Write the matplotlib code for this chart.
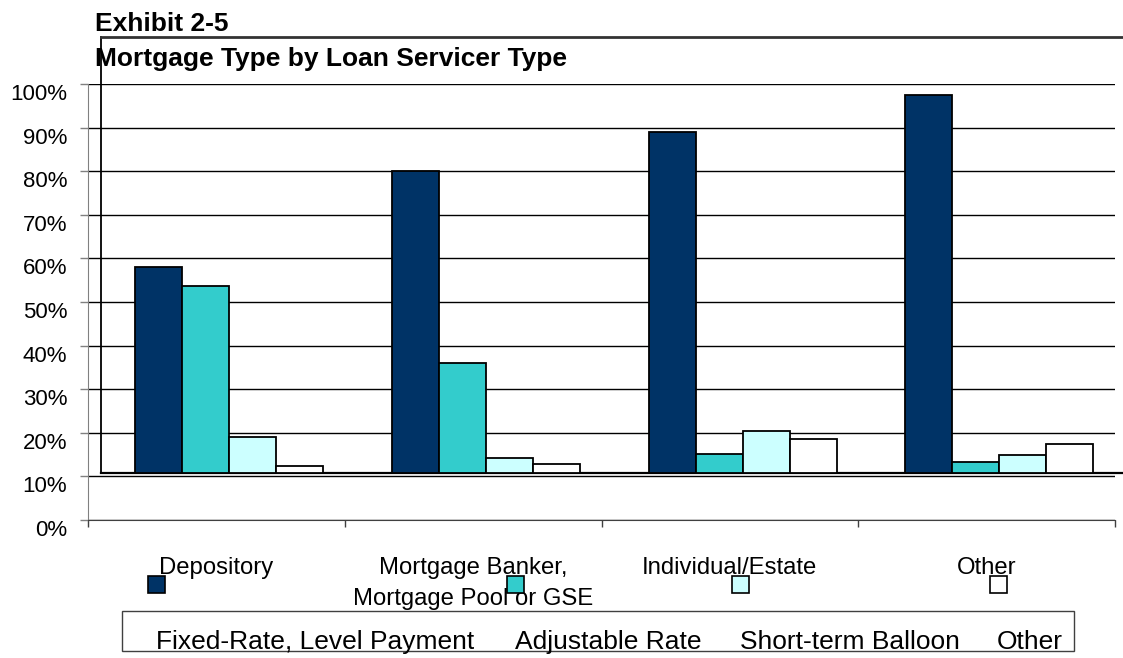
import matplotlib.pyplot as plt
import matplotlib.transforms as mtransforms
from matplotlib.patches import Rectangle

plt.rcParams['font.family'] = ['Liberation Sans', 'DejaVu Sans']

categories = ["Depository", "Mortgage Banker,\nMortgage Pool or GSE", "Individual/Estate", "Other"]
series_names = ["Fixed-Rate, Level Payment", "Adjustable Rate", "Short-term Balloon", "Other"]
fixed_rate = [58.0, 80.0, 89.0, 97.5]
adjustable = [53.6, 36.1, 15.1, 13.2]
balloon = [19.1, 14.3, 20.5, 15.0]
other_type = [12.4, 12.8, 18.5, 17.5]
colors = ["#003366", "#33CCCC", "#CCFFFF", "#FFFFFF"]

yticks = list(range(0, 101, 10))
floor = 10.85      # the 3-D floor the columns stand on
depth = 0.05       # back-wall shift, in category units
wall_top = 110.8

W, H = 1123, 658
fig = plt.figure(figsize=(W / 100, H / 100), dpi=100)
ax = fig.add_axes([88 / W, 1 - 520 / H, 1027 / W, 436 / H])
ax.set_xlim(0, 4)
ax.set_ylim(0, 100)

# gridlines and axes
ax.set_axisbelow(True)
ax.yaxis.grid(True, color="black", lw=1.0)
ax.set_yticks(yticks)
ax.set_yticklabels([f"{v}%" for v in yticks], fontsize=16)
ax.tick_params(axis="y", length=6, width=1, color="#808080", pad=9)
ax.set_xticks(range(5))
ax.set_xticklabels([])
ax.tick_params(axis="x", length=5, width=1, color="#404040")
for side in ("top", "right"):
    ax.spines[side].set_visible(False)
ax.spines["left"].set_color("#808080")
ax.spines["bottom"].set_color("#404040")
shift = mtransforms.ScaledTranslation(0, -8 / 100, fig.dpi_scale_trans)
for lab in ax.get_yticklabels():
    lab.set_transform(lab.get_transform() + shift)

# back wall and floor edges
x_right = (W - 88) / 256.75
ax.plot([depth, depth], [floor, wall_top], color="black", lw=1.3, clip_on=False)
ax.plot([depth, x_right], [wall_top, wall_top], color="#333333", lw=2, clip_on=False)
ax.plot([depth, x_right], [floor, floor], color="black", lw=1.6, clip_on=False, zorder=3)

# columns
values = [fixed_rate, adjustable, balloon, other_type]
bw = 0.183
for j, (vals, col) in enumerate(zip(values, colors)):
    xs = [i + 0.5 + depth + (j - 1.5) * bw for i in range(len(categories))]
    ax.bar(xs, [v - floor for v in vals], bottom=floor, width=bw, color=col,
           edgecolor="black", lw=1.3, zorder=4)

# titles
fig.text(95 / W, 1 - 31 / H, "Exhibit 2-5", fontsize=19, fontweight="bold", va="baseline")
fig.text(95 / W, 1 - 66 / H, "Mortgage Type by Loan Servicer Type", fontsize=19,
         fontweight="bold", va="baseline")

# category labels, one text per line so every first line shares a baseline
blend = mtransforms.blended_transform_factory(ax.transData, fig.transFigure)
for i, cat in enumerate(categories):
    for k, line in enumerate(cat.split("\n")):
        ax.text(i + 0.5, 1 - (574 + 31 * k) / H, line, transform=blend, ha="center",
                va="baseline", fontsize=17.2)

# legend keys sitting under the category labels
key_x = [148, 507, 732, 990]
for kx, col in zip(key_x, colors):
    fig.add_artist(Rectangle((kx / W, 1 - 593 / H), 17 / W, 17 / H, transform=fig.transFigure,
                             facecolor=col, edgecolor="black", lw=1.2))

# legend box
fig.add_artist(Rectangle((122 / W, 1 - 651 / H), (1074 - 122) / W, 40 / H,
                         transform=fig.transFigure, facecolor="none", edgecolor="#404040", lw=1))
label_x = [156, 515, 740, 997]
for lx, name in zip(label_x, series_names):
    fig.text(lx / W, 1 - 649 / H, name, fontsize=19, va="baseline")

fig.savefig("out.png", dpi=100)
